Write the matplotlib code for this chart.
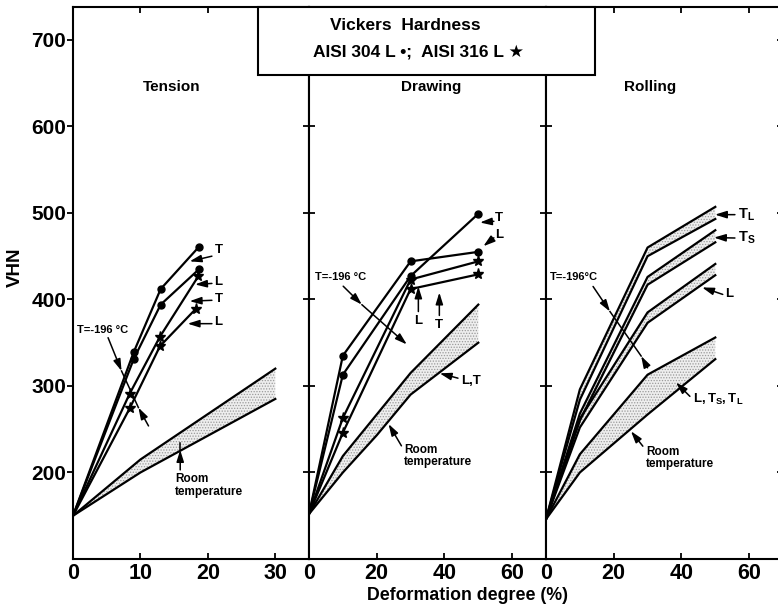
import matplotlib
matplotlib.use('Agg')
import matplotlib.pyplot as plt
from matplotlib.patches import Rectangle

plt.rcParams['font.family'] = ['Liberation Sans', 'DejaVu Sans']
plt.rcParams['font.weight'] = 'bold'
plt.rcParams['mathtext.fontset'] = 'custom'
plt.rcParams['mathtext.rm'] = 'Liberation Sans:bold'
plt.rcParams['mathtext.bf'] = 'Liberation Sans:bold'
plt.rcParams['mathtext.it'] = 'Liberation Sans:bold'
plt.rcParams['hatch.linewidth'] = 0.6

# ---------------- data ----------------
# Tension (-196 C)
ten_304_x = [0, 9, 13, 18.7]
ten_304_T = [150, 339, 412, 461]
ten_304_L = [150, 331, 394, 435]
ten_316_T_x = [0, 8.4, 12.9, 18.6]
ten_316_T = [150, 291, 357, 427]
ten_316_L_x = [0, 8.4, 12.9, 18.2]
ten_316_L = [150, 274, 346, 389]
# Tension room temperature band
ten_rt_x = [0, 10, 30]
ten_rt_hi = [150, 215, 320]
ten_rt_lo = [150, 200, 285]

# Drawing (-196 C)
dr_x = [0, 10, 30, 50]
dr_304_L = [152, 335, 444, 455]
dr_304_T = [152, 313, 427, 499]
dr_316_L = [152, 263, 423, 444]
dr_316_T = [152, 246, 412, 429]
# Drawing room temperature band
dr_rt_x = [0, 10, 20, 30, 50]
dr_rt_hi = [152, 219, 267, 315, 394]
dr_rt_lo = [152, 200, 243, 290, 350]

# Rolling (-196 C) bands
rl_x = [0, 10, 30, 50]
rl_TL_hi = [146, 296, 460, 507]
rl_TL_lo = [146, 284, 450, 493]
rl_TS_hi = [146, 268, 426, 480]
rl_TS_lo = [146, 260, 417, 466]
rl_L_hi = [146, 262, 385, 441]
rl_L_lo = [146, 252, 373, 428]
# Rolling room temperature band
rl_rt_hi = [146, 221, 313, 356]
rl_rt_lo = [146, 200, 267, 331]

yticks = [200, 300, 400, 500, 600, 700]
ten_xticks = [0, 10, 20, 30]
dr_xticks = [0, 20, 40, 60]
rl_xticks = [0, 20, 40, 60]
panel_titles = ['Tension', 'Drawing', 'Rolling']

# ---------------- figure ----------------
W, H = 778, 606
fig = plt.figure(figsize=(W / 100, H / 100), dpi=100)
bot = 47 / H
hgt = 552 / H
ax1 = fig.add_axes([73 / W, bot, 236 / W, hgt])
ax2 = fig.add_axes([309 / W, bot, 237 / W, hgt])
ax3 = fig.add_axes([546 / W, bot, 237 / W, hgt])

LW = 1.6
for ax, xl, xt in [(ax1, 35, ten_xticks), (ax2, 70, dr_xticks), (ax3, 70, rl_xticks)]:
    ax.set_xlim(0, xl)
    ax.set_ylim(100, 738)
    ax.set_xticks(xt)
    ax.set_yticks(yticks)
    for s in ax.spines.values():
        s.set_linewidth(1.5)
    ax.tick_params(axis='x', direction='in', length=4, width=1.3, top=True,
                   bottom=True, labelsize=15.5, pad=3)

ax1.tick_params(axis='y', direction='out', length=4, width=1.3, labelsize=15, pad=1)
for ax in (ax2, ax3):
    ax.tick_params(axis='y', direction='inout', length=9, width=1.3,
                   labelleft=False, left=True)
ax3.tick_params(axis='y', right=True)


def band(ax, x, lo, hi):
    ax.fill_between(x, lo, hi, facecolor='#eeeeee', edgecolor='#9a9a9a',
                    hatch='......', linewidth=0, zorder=1)
    ax.plot(x, lo, color='k', lw=LW, zorder=2)
    ax.plot(x, hi, color='k', lw=LW, zorder=2)


def curve(ax, x, y, marker):
    ms = 5 if marker == 'o' else 8
    ax.plot(x, y, color='k', lw=LW, zorder=3)
    ax.plot(x[1:], y[1:], linestyle='none', marker=marker, ms=ms,
            color='k', zorder=4)


def arrow(ax, tail, head):
    ax.annotate('', xy=head, xytext=tail,
                arrowprops=dict(arrowstyle='-|>,head_length=0.7,head_width=0.22',
                                lw=1.1, color='k', shrinkA=0, shrinkB=0),
                zorder=5)


def line(ax, p, q):
    ax.plot([p[0], q[0]], [p[1], q[1]], color='k', lw=1.1, zorder=5)


LBL = 9.5
# ---- Tension ----
band(ax1, ten_rt_x, ten_rt_lo, ten_rt_hi)
curve(ax1, ten_304_x, ten_304_T, 'o')
curve(ax1, ten_304_x, ten_304_L, 'o')
curve(ax1, ten_316_T_x, ten_316_T, '*')
curve(ax1, ten_316_L_x, ten_316_L, '*')
for (ty, tail, head, s) in [(457, (20.6, 450), (17.3, 444), 'T'),
                            (419.6, (20.6, 418.5), (18.1, 417.3), 'L'),
                            (400, (20.6, 399), (17.3, 398), 'T'),
                            (373.5, (20.6, 372), (17.0, 372), 'L')]:
    ax1.text(21.0, ty, s, fontsize=LBL, ha='left', va='center')
    arrow(ax1, tail, head)
ax1.text(0.6, 364.6, 'T=-196 °C', fontsize=8, ha='left', va='center')
arrow(ax1, (5.2, 355.8), (7.2, 317.3))
line(ax1, (7.2, 317.3), (9.7, 275))
arrow(ax1, (11.2, 253.8), (9.7, 275))
ax1.text(15.1, 199, 'Room\ntemperature', fontsize=8.5, ha='left', va='top',
         linespacing=1.05)
arrow(ax1, (15.9, 203), (15.9, 226))
line(ax1, (15.9, 226), (15.9, 234))

# ---- Drawing ----
band(ax2, dr_rt_x, dr_rt_lo, dr_rt_hi)
curve(ax2, dr_x, dr_304_L, 'o')
curve(ax2, dr_x, dr_304_T, 'o')
curve(ax2, dr_x, dr_316_L, '*')
curve(ax2, dr_x, dr_316_T, '*')
ax2.text(55.0, 494.3, 'T', fontsize=LBL, ha='left', va='center')
arrow(ax2, (54.6, 490.3), (50.5, 488.9))
ax2.text(55.0, 475, 'L', fontsize=LBL, ha='left', va='center')
arrow(ax2, (54.6, 471.2), (51.5, 461.5))
arrow(ax2, (32.3, 386), (32.3, 415))
ax2.text(32.3, 374.6, 'L', fontsize=LBL, ha='center', va='center')
arrow(ax2, (38.5, 381.5), (38.5, 408))
ax2.text(38.5, 370, 'T', fontsize=LBL, ha='center', va='center')
ax2.text(1.8, 426.5, 'T=-196 °C', fontsize=8, ha='left', va='center')
arrow(ax2, (10.1, 415.3), (15.6, 394))
arrow(ax2, (15.6, 394), (28.9, 348))
ax2.text(45.0, 305.8, 'L,T', fontsize=LBL, ha='left', va='center')
arrow(ax2, (44.0, 309), (38.6, 314.6))
ax2.text(28.1, 233, 'Room\ntemperature', fontsize=8.5, ha='left', va='top',
         linespacing=1.05)
arrow(ax2, (27.3, 230.8), (23.5, 256))

# ---- Rolling ----
band(ax3, rl_x, rl_rt_lo, rl_rt_hi)
band(ax3, rl_x, rl_L_lo, rl_L_hi)
band(ax3, rl_x, rl_TS_lo, rl_TS_hi)
band(ax3, rl_x, rl_TL_lo, rl_TL_hi)
ax3.text(56.7, 498, r'$\mathrm{T_L}$', fontsize=10.5, ha='left', va='center')
arrow(ax3, (55.8, 498), (49.9, 498))
ax3.text(56.7, 471, r'$\mathrm{T_S}$', fontsize=10.5, ha='left', va='center')
arrow(ax3, (55.8, 471), (49.6, 471.5))
ax3.text(52.9, 405.8, 'L', fontsize=LBL, ha='left', va='center')
arrow(ax3, (52.2, 405.8), (46.1, 413.9))
ax3.text(43.5, 284.6, r'$\mathrm{L,T_S,T_L}$', fontsize=9.5, ha='left', va='center')
arrow(ax3, (42.5, 288), (38.4, 304))
ax3.text(29.5, 231, 'Room\ntemperature', fontsize=8.5, ha='left', va='top',
         linespacing=1.05)
arrow(ax3, (28.6, 230.4), (25.1, 247.7))
ax3.text(1.2, 426.5, 'T=-196°C', fontsize=8, ha='left', va='center')
arrow(ax3, (13.9, 415), (18.9, 386))
line(ax3, (18.9, 386), (28.1, 334.6))
arrow(ax3, (30.0, 321), (28.1, 334.6))

# panel titles
ax1.text(14.7, 645, panel_titles[0], fontsize=11, ha='center', va='center')
ax2.text(36.2, 645, panel_titles[1], fontsize=11, ha='center', va='center')
ax3.text(30.7, 645, panel_titles[2], fontsize=11, ha='center', va='center')

# title box
box = Rectangle((258 / W, 1 - 75 / H), (595 - 258) / W, (75 - 7) / H,
                transform=fig.transFigure, facecolor='white', edgecolor='black',
                linewidth=1.5, zorder=10)
fig.patches.append(box)
fig.text(405.7 / W, 1 - 25 / H, 'Vickers  Hardness', fontsize=12.5,
         ha='center', va='center', zorder=11)
fig.text(419 / W, 1 - 51.7 / H, 'AISI 304 L •;  AISI 316 L ★', fontsize=12.5,
         ha='center', va='center', zorder=11)

# axis labels
fig.text(468 / W, 1 - 595 / H, 'Deformation degree (%)', fontsize=12.75,
         ha='center', va='center')
fig.text(15 / W, 1 - 267 / H, 'VHN', fontsize=13.5, rotation=90,
         ha='center', va='center')

fig.savefig('out.png', dpi=100)
